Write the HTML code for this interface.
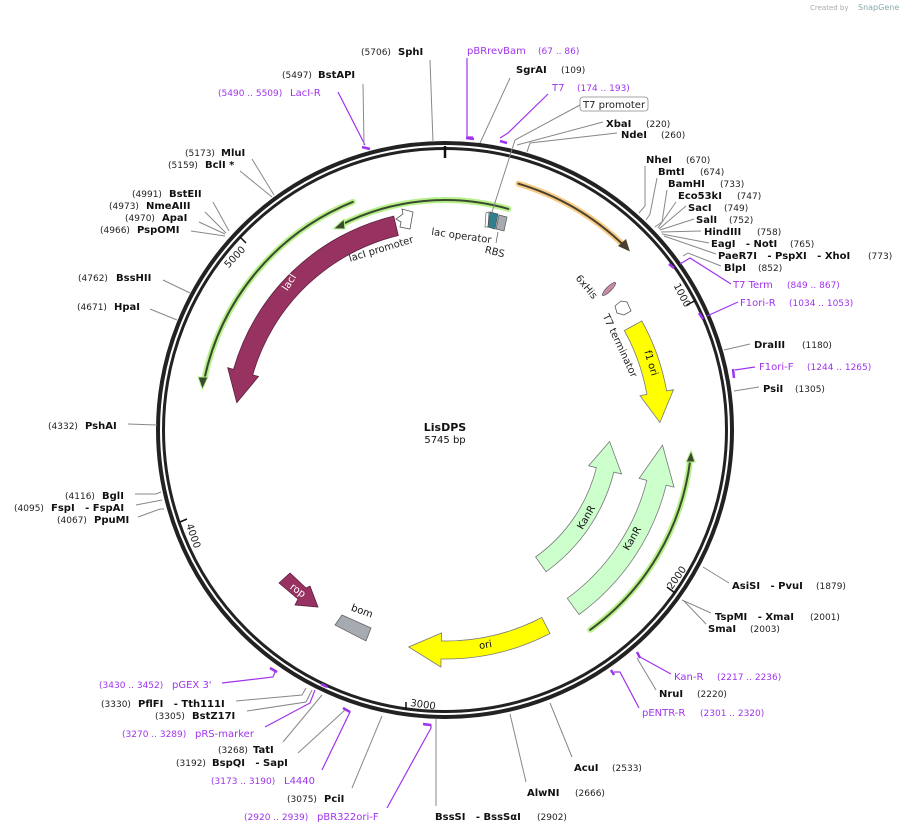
<!DOCTYPE html>
<html><head><meta charset="utf-8"><style>
html,body{margin:0;padding:0;background:#fff;}
svg{display:block;font-family:"DejaVu Sans","Liberation Sans",sans-serif;}
.n{font-size:10px;font-weight:bold;fill:#111;}
.c{font-size:9px;fill:#222;}
.p{font-size:10px;fill:#a033ee;}
.pc{font-size:9px;fill:#a033ee;}
.l{stroke:#888;stroke-width:1;fill:none;}
.pl{stroke:#a033ee;stroke-width:1.2;fill:none;}
.pb{stroke:#a033ee;stroke-width:2.5;fill:none;}
.f{font-size:10px;fill:#222;}
</style></head><body>
<svg width="908" height="833" viewBox="0 0 908 833" xmlns="http://www.w3.org/2000/svg">
<rect width="908" height="833" fill="#fff"/>
<text x="810" y="10" style="font-size:7px;fill:#aaa">Created by</text>
<text x="858" y="10" style="font-size:8px;fill:#8aa">SnapGene</text>

<!-- ring -->
<circle cx="445" cy="430" r="287" fill="none" stroke="#222" stroke-width="4"/>
<circle cx="445" cy="430" r="281.5" fill="none" stroke="#222" stroke-width="3"/>
<line x1="445" y1="146" x2="445" y2="158" stroke="#111" stroke-width="2.5"/>
<!-- ticks -->
<line x1="686.6" y1="305" x2="695.5" y2="300.5" stroke="#111" stroke-width="1.5"/>
<line x1="675" y1="593" x2="667" y2="587" stroke="#111" stroke-width="1.5"/>
<line x1="406" y1="710" x2="406" y2="702" stroke="#111" stroke-width="1.5"/>
<line x1="180" y1="522" x2="187" y2="519" stroke="#111" stroke-width="1.5"/>
<line x1="240" y1="237" x2="246" y2="243" stroke="#111" stroke-width="1.5"/>
<text class="f" transform="translate(685,308) rotate(62.7)" text-anchor="end">1000</text>
<text class="f" transform="translate(672,590) rotate(-54.7)">2000</text>
<text class="f" transform="translate(410,706) rotate(8)">3000</text>
<text class="f" transform="translate(186,525) rotate(70.6)">4000</text>
<text class="f" transform="translate(246,250) rotate(-46.7)" text-anchor="end">5000</text>

<!-- green arcs -->
<g fill="none" stroke-linecap="round">
<path d="M508.4 208.9 A230 230 0 0 0 340.6 225.1" stroke="#b8f08a" stroke-width="6"/>
<path d="M508.4 208.9 A230 230 0 0 0 340.6 225.1" stroke="#3a4a30" stroke-width="2"/>
<path d="M352.8 201.9 A246 246 0 0 0 204.4 378.9" stroke="#b8f08a" stroke-width="6"/>
<path d="M352.8 201.9 A246 246 0 0 0 204.4 378.9" stroke="#3a4a30" stroke-width="2"/>
<path d="M590.2 629.8 A247 247 0 0 0 690.2 460.1" stroke="#b8f08a" stroke-width="6"/>
<path d="M590.2 629.8 A247 247 0 0 0 690.2 460.1" stroke="#3a4a30" stroke-width="2"/>
<path d="M518.4 183.7 A257 257 0 0 1 623.5 245.1" stroke="#f7cc85" stroke-width="6"/>
<path d="M518.4 183.7 A257 257 0 0 1 623.5 245.1" stroke="#4a4030" stroke-width="2"/>
</g>
<polygon points="333.5,228.8 344,219 345,229" fill="#3a4a30" stroke="#b8f08a" stroke-width="1"/>
<polygon points="202.4,389.4 198,377 208,377" fill="#3a4a30" stroke="#b8f08a" stroke-width="1"/>
<polygon points="691.1,450.7 686,462 695,462" fill="#3a4a30" stroke="#b8f08a" stroke-width="1"/>
<polygon points="629.9,251.5 618,246 626,239" fill="#4a4030"/>

<!-- lacI -->
<path d="M393.7 216.1 A220 220 0 0 0 233.5 369.4 L227.7 367.7 L236.8 402.6 L258.5 376.5 L252.7 374.9 A200 200 0 0 1 398.3 235.5 Z" fill="#973261" stroke="#5a2040" stroke-width="0.8"/>
<text transform="translate(292,284) rotate(-58)" text-anchor="middle" style="font-size:10px;fill:#fff">lacI</text>
<!-- f1 ori -->
<path d="M641.8 320.9 A225 225 0 0 1 666.6 390.9 L673.5 389.7 L659.9 422.5 L640 395.6 L646.9 394.4 A205 205 0 0 0 624.3 330.6 Z" fill="#ffff00" stroke="#777" stroke-width="0.8"/>
<text transform="translate(648,364) rotate(73)" text-anchor="middle" style="font-size:10px;fill:#111">f1 ori</text>
<!-- KanR 1 -->
<path d="M546 571.7 A174 174 0 0 0 613.8 472.1 L621.6 474 L609.6 441.5 L588.6 465.8 L596.4 467.7 A156 156 0 0 1 535.6 557 Z" fill="#ccffcc" stroke="#777" stroke-width="0.8"/>
<text transform="translate(589,519) rotate(-60)" text-anchor="middle" style="font-size:10px;fill:#111">KanR</text>
<!-- KanR 2 -->
<path d="M579 614.5 A228 228 0 0 0 666.2 485.2 L674 487.1 L662.5 445.2 L639.1 478.4 L646.8 480.3 A208 208 0 0 1 567.3 598.3 Z" fill="#ccffcc" stroke="#777" stroke-width="0.8"/>
<text transform="translate(635,540) rotate(-60)" text-anchor="middle" style="font-size:10px;fill:#111">KanR</text>
<!-- ori -->
<path d="M550 633.5 A229 229 0 0 1 441 659 L440.9 667 L408.7 647 L441.5 633 L441.3 641 A211 211 0 0 0 541.8 617.5 Z" fill="#ffff00" stroke="#777" stroke-width="0.8"/>
<text transform="translate(486,648) rotate(-10)" text-anchor="middle" style="font-size:10px;fill:#111">ori</text>
<!-- rop -->
<polygon points="279,583 290,573 306,588 310,586 318,607 295,605 298,599" fill="#973261" stroke="#5a2040" stroke-width="0.8"/>
<text transform="translate(296,593) rotate(36)" text-anchor="middle" style="font-size:10px;fill:#fff">rop</text>
<!-- bom -->
<polygon points="335,625 342,615 371,628 366,641" fill="#a6abb2" stroke="#666" stroke-width="0.8"/>
<text transform="translate(361,614) rotate(20)" text-anchor="middle" style="font-size:10px;fill:#111">bom</text>
<!-- small features top -->
<polygon points="396,219 403,214 402,209 413,212 410,229 400,227 401,222" fill="#fff" stroke="#555" stroke-width="0.8"/>
<text transform="translate(382,252) rotate(-17)" text-anchor="middle" class="f">lacI promoter</text>
<polygon points="486,213 489,212 488,227 485,227" fill="#fff" stroke="#666" stroke-width="0.7"/>
<polygon points="490,212 498,214 495,229 488,227" fill="#2f7f8f" stroke="#555" stroke-width="0.7"/>
<polygon points="499,215 507,217 504,231 496,229" fill="#a6abb2" stroke="#555" stroke-width="0.7"/>
<text transform="translate(461,239) rotate(8)" text-anchor="middle" class="f">lac operator</text>
<line x1="498" y1="232" x2="496" y2="243" stroke="#555" stroke-width="0.7"/>
<text transform="translate(494,255) rotate(14)" text-anchor="middle" class="f">RBS</text>
<ellipse cx="609" cy="289" rx="9" ry="2.5" transform="rotate(-45 609 289)" fill="#c98aa8" stroke="#555" stroke-width="0.7"/>
<text transform="translate(584,289) rotate(50)" text-anchor="middle" class="f">6xHis</text>
<polygon points="615,306 621,301 627,302 631,311 624,315 617,313" fill="#fff" stroke="#555" stroke-width="0.8"/>
<text transform="translate(617,347) rotate(65)" text-anchor="middle" class="f">T7 terminator</text>

<!-- center -->
<text x="445" y="431" text-anchor="middle" style="font-size:11px;font-weight:bold;fill:#111">LisDPS</text>
<text x="445" y="443" text-anchor="middle" style="font-size:10px;fill:#111">5745 bp</text>

<!-- TOP labels -->
<text class="c" x="361" y="55">(5706)</text><text class="n" x="398" y="55">SphI</text>
<path class="l" d="M430 60 L433 142"/>
<text class="p" x="467" y="54">pBRrevBam</text><text class="pc" x="538" y="54">(67 .. 86)</text>
<path class="pl" d="M467 58 L467 137 L473 137"/><path class="pb" d="M466 138 L474 139"/>
<text class="n" x="516" y="73">SgrAI</text><text class="c" x="561" y="73">(109)</text>
<path class="l" d="M510 78 L480 143"/>
<text class="p" x="552" y="91">T7</text><text class="pc" x="577" y="91">(174 .. 193)</text>
<path class="pl" d="M548 94 L508 133 L500 138"/><path class="pb" d="M500 141 L507 143"/>
<rect x="580" y="97" width="68" height="14" rx="3" fill="#fff" stroke="#888" stroke-width="0.8"/>
<text class="f" x="583" y="108">T7 promoter</text>
<path class="l" d="M580 105 L515 140 L492 212"/>
<text class="n" x="606" y="127">XbaI</text><text class="c" x="646" y="127">(220)</text>
<path class="l" d="M603 122 L517 145"/>
<text class="n" x="621" y="138">NdeI</text><text class="c" x="661" y="138">(260)</text>
<path class="l" d="M617 133 L530 143 L527 152"/>

<!-- right cluster -->
<text class="n" x="646" y="163">NheI</text><text class="c" x="686" y="163">(670)</text>
<text class="n" x="658" y="175">BmtI</text><text class="c" x="700" y="175">(674)</text>
<text class="n" x="668" y="187">BamHI</text><text class="c" x="720" y="187">(733)</text>
<text class="n" x="678" y="199">Eco53kI</text><text class="c" x="737" y="199">(747)</text>
<text class="n" x="688" y="211">SacI</text><text class="c" x="724" y="211">(749)</text>
<text class="n" x="696" y="223">SalI</text><text class="c" x="729" y="223">(752)</text>
<text class="n" x="704" y="235">HindIII</text><text class="c" x="757" y="235">(758)</text>
<text class="n" x="711" y="247">EagI&#160;&#160; - NotI</text><text class="c" x="790" y="247">(765)</text>
<text class="n" x="718" y="259">PaeR7I&#160;&#160; - PspXI&#160;&#160; - XhoI</text><text class="c" x="868" y="259">(773)</text>
<text class="n" x="724" y="271">BlpI</text><text class="c" x="758" y="271">(852)</text>
<g class="l">
<path d="M645 166 L645 206 L639 213"/>
<path d="M657 178 L650 214 L646 220"/>
<path d="M667 190 L662 222 L655 227"/>
<path d="M676 202 L658 228"/>
<path d="M686 206 L659 229"/>
<path d="M694 219 L660 230"/>
<path d="M701 231 L661 232"/>
<path d="M709 243 L662 234"/>
<path d="M716 254 L664 236"/>
<path d="M721 266 L688 253 L683 256"/>
</g>
<text class="p" x="733" y="288">T7 Term</text><text class="pc" x="787" y="288">(849 .. 867)</text>
<path class="pl" d="M731 284 L690 258 L680 264"/><path class="pb" d="M669 264 L674 268"/>
<text class="p" x="740" y="306">F1ori-R</text><text class="pc" x="789" y="306">(1034 .. 1053)</text>
<path class="pl" d="M738 302 L707 316"/><path class="pb" d="M699 313 L703 319"/>
<text class="n" x="754" y="348">DraIII</text><text class="c" x="802" y="348">(1180)</text>
<path class="l" d="M750 344 L724 350"/>
<text class="p" x="759" y="370">F1ori-F</text><text class="pc" x="807" y="370">(1244 .. 1265)</text>
<path class="pl" d="M755 367 L735 370"/><path class="pb" d="M733 369 L734 378"/>
<text class="n" x="763" y="392">PsiI</text><text class="c" x="795" y="392">(1305)</text>
<path class="l" d="M759 387 L734 391"/>
<text class="n" x="732" y="589">AsiSI&#160;&#160; - PvuI</text><text class="c" x="816" y="589">(1879)</text>
<path class="l" d="M729 583 L703 567"/>
<text class="n" x="715" y="620">TspMI&#160;&#160; - XmaI</text><text class="c" x="810" y="620">(2001)</text>
<text class="n" x="708" y="632">SmaI</text><text class="c" x="750" y="632">(2003)</text>
<path class="l" d="M711 613 L682 600"/><path class="l" d="M706 624 L684 601"/>
<text class="p" x="674" y="680">Kan-R</text><text class="pc" x="717" y="680">(2217 .. 2236)</text>
<path class="pl" d="M671 674 L640 657"/><path class="pb" d="M637 652 L640 658"/>
<text class="n" x="659" y="697">NruI</text><text class="c" x="697" y="697">(2220)</text>
<path class="l" d="M656 690 L637 658"/>
<text class="p" x="642" y="716">pENTR-R</text><text class="pc" x="700" y="716">(2301 .. 2320)</text>
<path class="pl" d="M639 708 L620 672 L614 672"/><path class="pb" d="M611 670 L614 675"/>
<text class="n" x="574" y="771">AcuI</text><text class="c" x="612" y="771">(2533)</text>
<path class="l" d="M572 757 L550 703"/>
<text class="n" x="527" y="796">AlwNI</text><text class="c" x="575" y="796">(2666)</text>
<path class="l" d="M526 782 L510 714"/>
<text class="n" x="435" y="820">BssSI&#160;&#160; - BssSαI</text><text class="c" x="537" y="820">(2902)</text>
<path class="l" d="M436 806 L436 719"/>

<!-- bottom-left -->
<text class="pc" x="244" y="820">(2920 .. 2939)</text><text class="p" x="317" y="820">pBR322ori-F</text>
<path class="pl" d="M387 808 L431 728 L431 725 L424 725"/><path class="pb" d="M423 724 L431 725"/>
<text class="c" x="287" y="802">(3075)</text><text class="n" x="324" y="802">PciI</text>
<path class="l" d="M352 788 L382 716"/>
<text class="pc" x="211" y="784">(3173 .. 3190)</text><text class="p" x="284" y="784">L4440</text>
<path class="pl" d="M322 770 L350 712 L346 710"/><path class="pb" d="M343 708 L350 712"/>
<text class="c" x="218" y="753">(3268)</text><text class="n" x="253" y="753">TatI</text>
<text class="c" x="176" y="766">(3192)</text><text class="n" x="212" y="766">BspQI&#160;&#160; - SapI</text>
<path class="l" d="M298 753 L345 710"/><path class="l" d="M283 742 L322 695"/>
<text class="pc" x="122" y="737">(3270 .. 3289)</text><text class="p" x="195" y="737">pRS-marker</text>
<path class="pl" d="M265 727 L310 703 L315 690"/><path class="pb" d="M321 684 L327 687"/>
<text class="c" x="101" y="707">(3330)</text><text class="n" x="138" y="707">PflFI&#160;&#160; - Tth111I</text>
<text class="c" x="155" y="719">(3305)</text><text class="n" x="192" y="719">BstZ17I</text>
<path class="l" d="M236 701 L302 695 L306 688"/><path class="l" d="M247 711 L306 702 L312 690"/>
<text class="pc" x="99" y="688">(3430 .. 3452)</text><text class="p" x="172" y="688">pGEX 3'</text>
<path class="pl" d="M222 683 L273 677 L275 672"/><path class="pb" d="M270 668 L277 672"/>

<!-- left -->
<text class="c" x="57" y="523">(4067)</text><text class="n" x="94" y="523">PpuMI</text>
<path class="l" d="M138 517 L160 509 L164 509"/>
<text class="c" x="14" y="511">(4095)</text><text class="n" x="51" y="511">FspI&#160;&#160; - FspAI</text>
<path class="l" d="M136 505 L162 500"/>
<text class="c" x="65" y="499">(4116)</text><text class="n" x="102" y="499">BglI</text>
<path class="l" d="M135 494 L156 494 L161 492"/>
<text class="c" x="48" y="429">(4332)</text><text class="n" x="85" y="429">PshAI</text>
<path class="l" d="M128 424 L157 425"/>
<text class="c" x="77" y="310">(4671)</text><text class="n" x="114" y="310">HpaI</text>
<path class="l" d="M150 309 L177 320"/>
<text class="c" x="78" y="281">(4762)</text><text class="n" x="116" y="281">BssHII</text>
<path class="l" d="M163 280 L190 293"/>
<text class="c" x="100" y="233">(4966)</text><text class="n" x="137" y="233">PspOMI</text>
<text class="c" x="125" y="221">(4970)</text><text class="n" x="162" y="221">ApaI</text>
<text class="c" x="109" y="209">(4973)</text><text class="n" x="146" y="209">NmeAIII</text>
<text class="c" x="132" y="197">(4991)</text><text class="n" x="169" y="197">BstEII</text>
<path class="l" d="M191 231 L225 236"/><path class="l" d="M199 222 L225 234"/>
<path class="l" d="M205 212 L226 233"/><path class="l" d="M213 202 L229 231"/>
<text class="c" x="168" y="168">(5159)</text><text class="n" x="205" y="168">BclI *</text>
<text class="c" x="185" y="156">(5173)</text><text class="n" x="221" y="156">MluI</text>
<path class="l" d="M240 171 L272 197"/><path class="l" d="M252 159 L274 195"/>
<text class="pc" x="218" y="96">(5490 .. 5509)</text><text class="p" x="290" y="96">LacI-R</text>
<path class="pl" d="M338 92 L365 145"/><path class="pb" d="M362 147 L370 149"/>
<text class="c" x="282" y="78">(5497)</text><text class="n" x="318" y="78">BstAPI</text>
<path class="l" d="M363 84 L364 145"/>
</svg>
</body></html>
